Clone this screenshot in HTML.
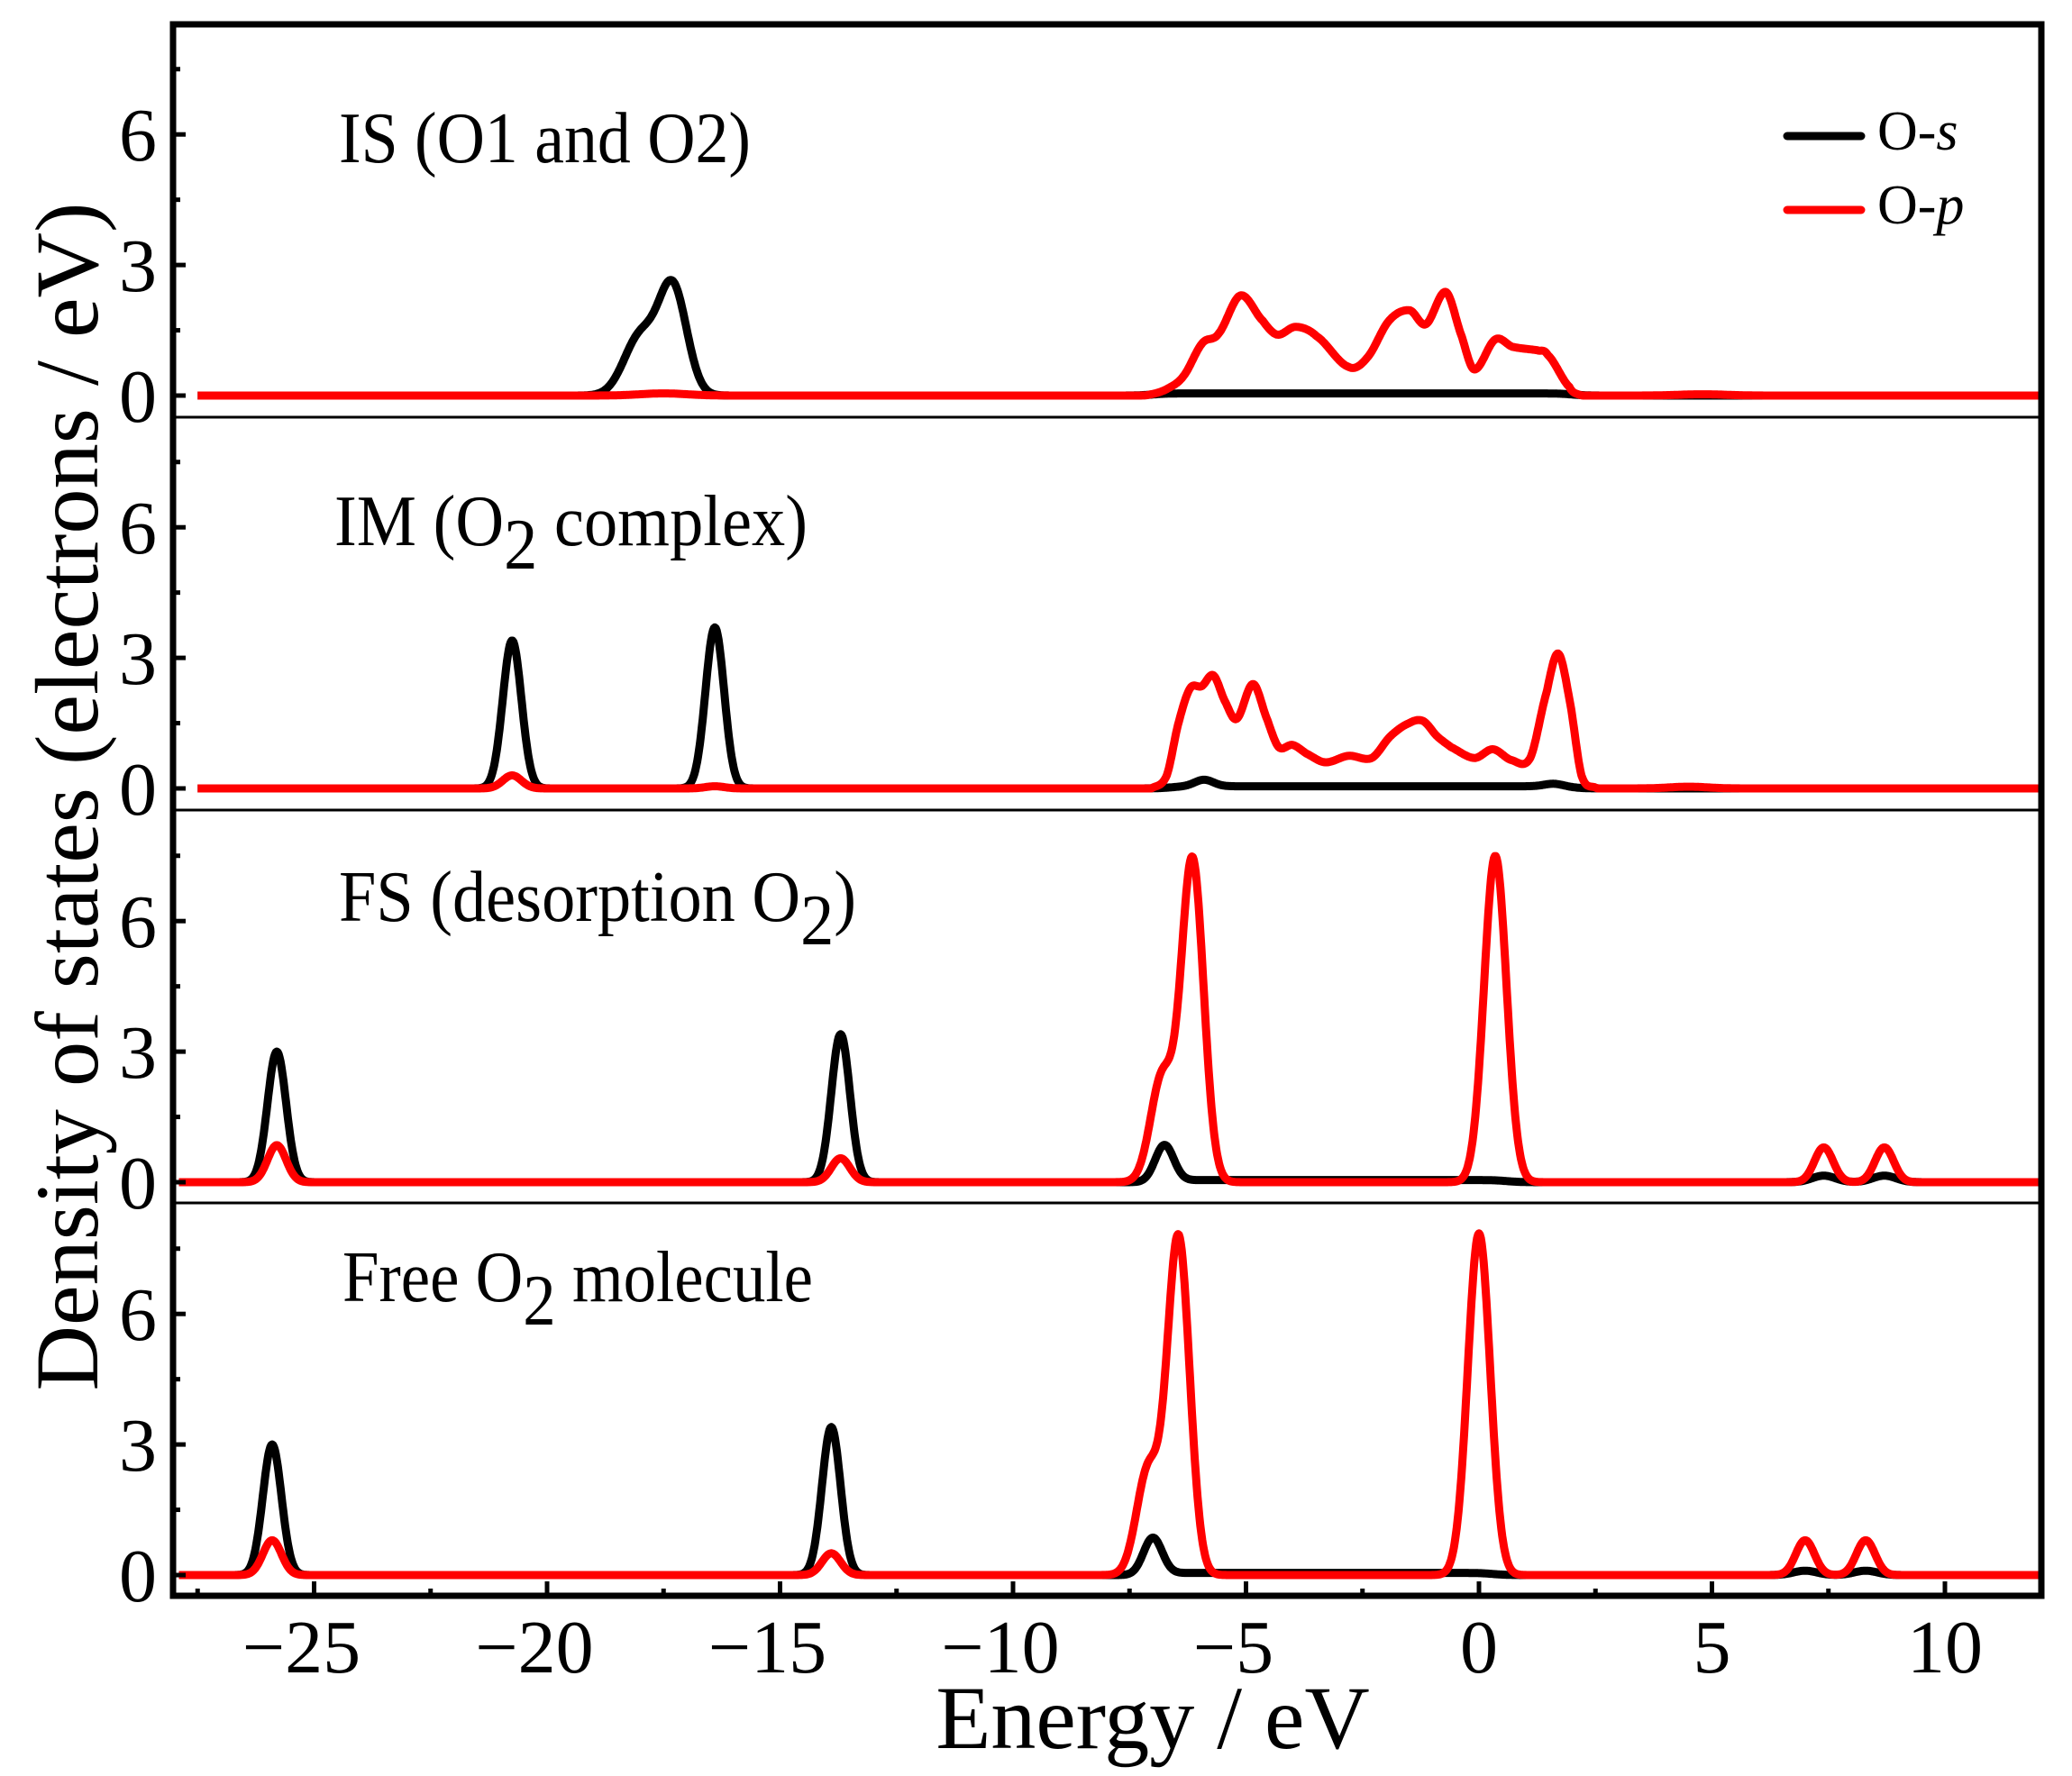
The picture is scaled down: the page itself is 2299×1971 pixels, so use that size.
<!DOCTYPE html>
<html><head><meta charset="utf-8">
<style>html,body{margin:0;padding:0;background:#fff}svg{display:block}</style>
</head><body>
<svg id="s" xmlns="http://www.w3.org/2000/svg" width="2299" height="1971" viewBox="0 0 2299 1971" font-family="'Liberation Serif', serif">
<rect width="2299" height="1971" fill="#fff"/>
<g id="curves"></g>
<g id="axes"></g>
<text x="376" y="180" font-size="80" textLength="457" lengthAdjust="spacingAndGlyphs">IS (O1 and O2)</text>
<text x="371" y="605" font-size="80" textLength="525" lengthAdjust="spacingAndGlyphs">IM (O<tspan dy="26">2</tspan><tspan dy="-26"> complex)</tspan></text>
<text x="376" y="1022" font-size="80" textLength="574" lengthAdjust="spacingAndGlyphs">FS (desorption O<tspan dy="26">2</tspan><tspan dy="-26">)</tspan></text>
<text x="380" y="1444" font-size="80" textLength="522" lengthAdjust="spacingAndGlyphs">Free O<tspan dy="26">2</tspan><tspan dy="-26"> molecule</tspan></text>
<line x1="1983" y1="151" x2="2065" y2="151" stroke="#000" stroke-width="9" stroke-linecap="round"/>
<line x1="1983" y1="233" x2="2065" y2="233" stroke="#f00" stroke-width="9" stroke-linecap="round"/>
<text x="2083" y="166" font-size="62">O-<tspan font-style="italic">s</tspan></text>
<text x="2083" y="248" font-size="62">O-<tspan font-style="italic">p</tspan></text>
<text x="1279" y="1940" font-size="100" text-anchor="middle">Energy / eV</text>
<text transform="translate(108,884) rotate(-90)" font-size="100" text-anchor="middle" textLength="1319" lengthAdjust="spacingAndGlyphs">Density of states (electrons / eV)</text>
</svg>
<script>
const X0=1641, SX=51.7, SY=48.3, L=192, R=2265, T=27, PH=436;
const zeros=[439,875,1312,1748];
const px=E=>X0+SX*E;
function g(E,m,a,s){return a*Math.exp(-0.5*((E-m)/s)**2);}
function cr(pts,E){
  if(E<=pts[0][0]||E>=pts[pts.length-1][0])return 0;
  let i=0;while(pts[i+1][0]<E)i++;
  const p0=pts[Math.max(i-1,0)],p1=pts[i],p2=pts[i+1],p3=pts[Math.min(i+2,pts.length-1)];
  const t=(E-p1[0])/(p2[0]-p1[0]);
  const y=0.5*((2*p1[1])+(-p0[1]+p2[1])*t+(2*p0[1]-5*p1[1]+4*p2[1]-p3[1])*t*t+(-p0[1]+3*p1[1]-3*p2[1]+p3[1])*t*t*t);
  return Math.max(y,0);
}
function plat(E,a,b,h){return h/(1+Math.exp(-(E-a)/0.15))/(1+Math.exp((E-b)/0.15));}
const isRed=[[-7.3,0],[-7.08,0.02],[-6.7,0.15],[-6.34,0.45],[-5.94,1.2],[-5.59,1.42],[-5.12,2.3],[-4.64,1.72],[-4.33,1.4],[-3.93,1.58],[-3.48,1.36],[-2.8,0.66],[-2.4,0.87],[-1.93,1.72],[-1.49,1.96],[-1.14,1.64],[-0.71,2.38],[-0.37,1.36],[-0.1,0.6],[0.35,1.29],[0.72,1.12],[1.26,1.04],[1.47,0.94],[1.94,0.2],[2.15,0.02],[2.4,0]];
const imRed=[[-7.2,0],[-7.0,0.02],[-6.7,0.3],[-6.45,1.5],[-6.2,2.3],[-5.95,2.35],[-5.7,2.6],[-5.45,2.0],[-5.2,1.6],[-4.85,2.4],[-4.55,1.6],[-4.3,0.95],[-4.0,1.0],[-3.7,0.8],[-3.3,0.6],[-2.8,0.75],[-2.3,0.7],[-1.9,1.2],[-1.5,1.5],[-1.2,1.55],[-0.9,1.2],[-0.6,0.95],[-0.1,0.7],[0.3,0.9],[0.7,0.65],[1.1,0.7],[1.45,2.2],[1.7,3.1],[1.95,2.0],[2.2,0.3],[2.5,0.02],[2.7,0]];
const panels=[
 {start:-27.5,
  s:E=>g(E,-17.3,2.45,0.3)+g(E,-18.0,1.35,0.35)+plat(E,-7,2,0.05),
  p:E=>cr(isRed,E)+g(E,-17.5,0.05,0.5)+g(E,4.8,0.03,0.5)},
 {start:-27.5,
  s:E=>g(E,-20.75,3.4,0.2)+g(E,-16.4,3.7,0.2)+g(E,-5.9,0.15,0.2)+plat(E,-6.6,2,0.05)+g(E,1.6,0.06,0.2),
  p:E=>cr(imRed,E)+g(E,-20.75,0.3,0.2)+g(E,-16.4,0.05,0.2)+g(E,4.5,0.04,0.4)},
 {start:-27.9,
  s:E=>g(E,-25.8,3.0,0.2)+g(E,-13.7,3.4,0.2)+g(E,-6.75,0.85,0.2)+plat(E,-6.5,0.6,0.05)+g(E,7.4,0.15,0.25)+g(E,8.7,0.15,0.25),
  p:E=>g(E,-25.8,0.85,0.2)+g(E,-13.7,0.55,0.2)+g(E,-6.15,7.4,0.24)+g(E,-6.8,2.4,0.25)+g(E,0.35,7.5,0.24)+g(E,7.4,0.8,0.2)+g(E,8.7,0.8,0.2)},
 {start:-27.9,
  s:E=>g(E,-25.9,3.0,0.2)+g(E,-13.9,3.4,0.2)+g(E,-7.0,0.85,0.2)+plat(E,-6.8,0.3,0.05)+g(E,7.0,0.1,0.25)+g(E,8.3,0.1,0.25),
  p:E=>g(E,-25.9,0.8,0.2)+g(E,-13.9,0.5,0.2)+g(E,-6.45,7.75,0.24)+g(E,-7.1,2.4,0.25)+g(E,0.0,7.85,0.24)+g(E,7.0,0.8,0.2)+g(E,8.3,0.8,0.2)}
];
let out='';
panels.forEach((P,i)=>{
  const z=zeros[i];
  ['s','p'].forEach(k=>{
    let d='';
    for(let E=P.start;E<=11.95;E+=0.02){
      const x=px(E), y=z-SY*P[k](E);
      d+=(d?'L':'M')+x.toFixed(1)+','+y.toFixed(1);
    }
    d+='L'+(R-3)+','+(z-SY*P[k](11.95)).toFixed(1);
    out+=`<path d="${d}" fill="none" stroke="${k=='s'?'#000':'#f00'}" stroke-width="9" stroke-linejoin="round"/>`;
  });
});
document.getElementById('curves').innerHTML=out;
let a='';
const B=T+4*PH;
a+=`<rect x="${L}" y="${T}" width="${R-L}" height="${B-T}" fill="none" stroke="#000" stroke-width="7"/>`;
for(let i=1;i<4;i++){const y=T+i*PH;a+=`<line x1="${L}" y1="${y}" x2="${R}" y2="${y}" stroke="#000" stroke-width="3"/>`;}
for(let i=0;i<4;i++){
  const z=zeros[i];
  for(let v=0;v<=7.5;v+=1.5){
    const y=z-SY*v, maj=(v%3==0);
    a+=`<line x1="${L}" y1="${y}" x2="${L+(maj?14:8)}" y2="${y}" stroke="#000" stroke-width="5"/>`;
    if(maj)a+=`<text x="153" y="${y+29}" font-size="84" text-anchor="middle">${v}</text>`;
  }
}
for(let E=-27.5;E<=12;E+=2.5){
  const x=px(E), maj=(Math.abs(E%5)<1e-6);
  a+=`<line x1="${x}" y1="${B}" x2="${x}" y2="${B-(maj?16:8)}" stroke="#000" stroke-width="5"/>`;
  if(maj)a+=`<text x="${E<0?x-14:x}" y="1856" font-size="84" text-anchor="middle">${E<0?'\u2212'+(-E):E}</text>`;
}
document.getElementById('axes').innerHTML=a;
</script>
</body></html>
